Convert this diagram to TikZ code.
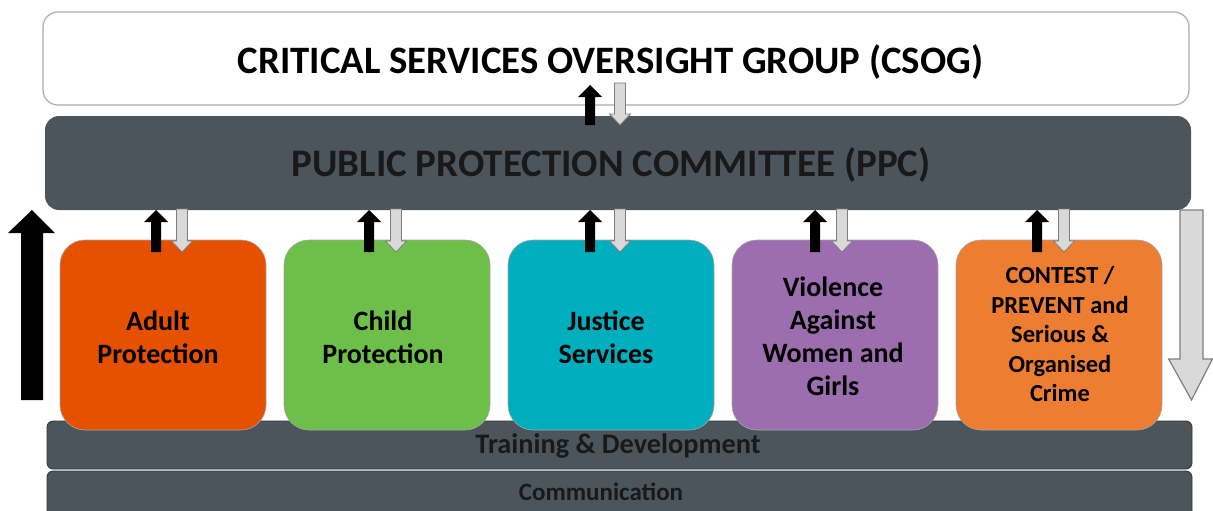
\documentclass[tikz,border=0pt]{standalone}
\usepackage{fontspec}
\setmainfont{Carlito}
\definecolor{dkgray}{HTML}{4D555C}
\definecolor{adultc}{HTML}{E65100}
\definecolor{childc}{HTML}{6EBF4A}
\definecolor{justc}{HTML}{00AEBD}
\definecolor{violc}{HTML}{9C6EB0}
\definecolor{contc}{HTML}{ED7D31}
\definecolor{ltgray}{HTML}{D9D9D9}
\definecolor{edgegray}{HTML}{7F7F7F}
\newcommand{\upblk}[3]{%
  \fill[black] (#1-5,#3) -- (#1-5,#2+12) -- (#1-12,#2+12) -- (#1,#2) -- (#1+12,#2+12) -- (#1+5,#2+12) -- (#1+5,#3) -- cycle;}
\newcommand{\downgry}[3]{%
  \filldraw[fill=ltgray,draw=edgegray,line width=0.8pt] (#1-5.5,#2) -- (#1-5.5,#3-11) -- (#1-10.5,#3-11) -- (#1,#3) -- (#1+10.5,#3-11) -- (#1+5.5,#3-11) -- (#1+5.5,#2) -- cycle;}
\begin{document}
\begin{tikzpicture}[x=1pt,y=-1pt,
  cbox/.style={draw=gray!70, line width=0.6pt, rounded corners=25pt, minimum width=206, minimum height=190, inner sep=0pt},
  ctext/.style={align=center, text=black, font=\bfseries\fontsize{28}{33}\selectfont, inner sep=0pt},
  barbox/.style={draw=black!80, fill=dkgray, line width=0.8pt, rounded corners=6pt, minimum width=1145, inner sep=0pt}]
\useasboundingbox (0,0) rectangle (1213,511);
% top boxes
\node[draw=gray!65, fill=white, line width=1.2pt, rounded corners=15pt, minimum width=1146, minimum height=93, inner sep=0pt] (csog) at (616,58.5) {};
\node[font=\bfseries\fontsize{38.8}{40}\selectfont] (csogt) at (610.5,62) {CRITICAL SERVICES OVERSIGHT GROUP (CSOG)};
\node[fill=dkgray, rounded corners=14pt, minimum width=1146, minimum height=94, inner sep=0pt] (ppc) at (618,163) {};
\node[font=\bfseries\fontsize{39}{40}\selectfont, text=black!90] (ppct) at (611,165) {PUBLIC PROTECTION COMMITTEE (PPC)};
% bars
\node[barbox, minimum height=60] (comm) at (619.5,501) {};
\node[font=\bfseries\fontsize{25}{26}\selectfont, text=black!90] (commt) at (601,492) {Communication};
\node[barbox, minimum height=48] (train) at (619.5,445) {};
% coloured boxes
\node[cbox, fill=adultc] (adult) at (163,335) {};
\node[ctext] (adultt) at (158,337) {Adult\\Protection};
\node[cbox, fill=childc] (child) at (387,335) {};
\node[ctext] (childt) at (383,337) {Child\\Protection};
\node[cbox, fill=justc] (just) at (611,335) {};
\node[ctext] (justt) at (606,337) {Justice\\Services};
\node[cbox, fill=violc] (viol) at (835,335) {};
\node[ctext] (violt) at (833,336) {Violence\\Against\\Women and\\Girls};
\node[cbox, fill=contc] (cont) at (1059,335) {};
\node[ctext, font=\bfseries\fontsize{24.5}{29.5}\selectfont] (contt) at (1060,334) {CONTEST /\\PREVENT and\\Serious \&\\Organised\\Crime};
\node[font=\bfseries\fontsize{28.3}{29}\selectfont, text=black!90] (traint) at (618,446) {Training \& Development};
% small arrows CSOG <-> PPC
\upblk{590}{85}{125}
\downgry{620}{83}{125}
% small arrows PPC <-> boxes
\upblk{156}{210}{252}
\downgry{182}{209}{252}
\upblk{369}{210}{252}
\downgry{396}{209}{252}
\upblk{590}{210}{252}
\downgry{620}{209}{252}
\upblk{815}{210}{252}
\downgry{842}{209}{252}
\upblk{1037}{210}{252}
\downgry{1064}{209}{252}
% big arrows
\fill[black] (21,400) -- (21,233) -- (8,233) -- (32,210) -- (55,233) -- (43,233) -- (43,400) -- cycle;
\filldraw[fill=ltgray, draw=edgegray, line width=1.2pt] (1180,210) -- (1180,359) -- (1168.6,359) -- (1191.5,400) -- (1212.4,359) -- (1203,359) -- (1203,210) -- cycle;
\end{tikzpicture}
\end{document}
